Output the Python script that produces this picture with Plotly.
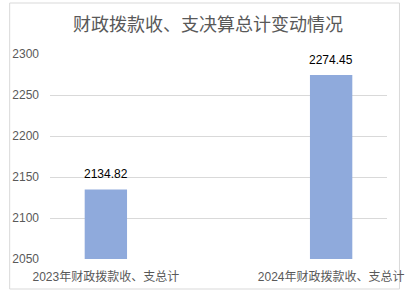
import plotly.graph_objects as go

categories = ["2023年财政拨款收、支总计", "2024年财政拨款收、支总计"]
values = [2134.82, 2274.45]
value_labels = ["2134.82", "2274.45"]
title = "财政拨款收、支决算总计变动情况"

fig = go.Figure()
fig.add_trace(go.Bar(
    x=[0, 1], y=values, width=0.188,
    marker=dict(color="#8FAADC", line=dict(width=0)),
    hoverinfo="skip",
))
for i, (v, t) in enumerate(zip(values, value_labels)):
    fig.add_annotation(x=i, y=v, text=t, showarrow=False, yanchor="bottom",
                       yshift=6, font=dict(size=12, color="#000000",
                                            family="Liberation Sans, Noto Sans CJK SC"))

fig.update_layout(
    width=416, height=297,
    margin=dict(l=46, r=19, t=54, b=38),
    paper_bgcolor="white", plot_bgcolor="white",
    showlegend=False,
    title=dict(text=title, x=0.5, xanchor="center", y=1 - 25/297, yanchor="middle",
               font=dict(size=18, color="#595959", family="Noto Sans CJK SC")),
    font=dict(family="Liberation Sans, Noto Sans CJK SC", color="#595959", size=12),
    xaxis=dict(tickmode="array", tickvals=[0, 1], ticktext=categories,
               range=[-0.248, 1.248], showgrid=False, zeroline=False,
               showline=False, ticks="", ticklabelstandoff=9,
               tickfont=dict(size=12, color="#595959"),
               fixedrange=True),
    yaxis=dict(range=[2050, 2300], dtick=50, tick0=2050, showgrid=True,
               gridcolor="#D9D9D9", gridwidth=1, zeroline=False, showline=False,
               ticks="", ticklabelstandoff=10, tickfont=dict(size=12, color="#595959"),
               fixedrange=True),
    shapes=[dict(type="rect", xref="paper", yref="paper",
                 x0=-42/351, x1=(410-46)/351, y0=-(289-259)/205, y1=(259-3)/205,
                 line=dict(color="#D9D9D9", width=1), fillcolor="rgba(0,0,0,0)",
                 layer="below")],
)

fig.write_html("out.html")
